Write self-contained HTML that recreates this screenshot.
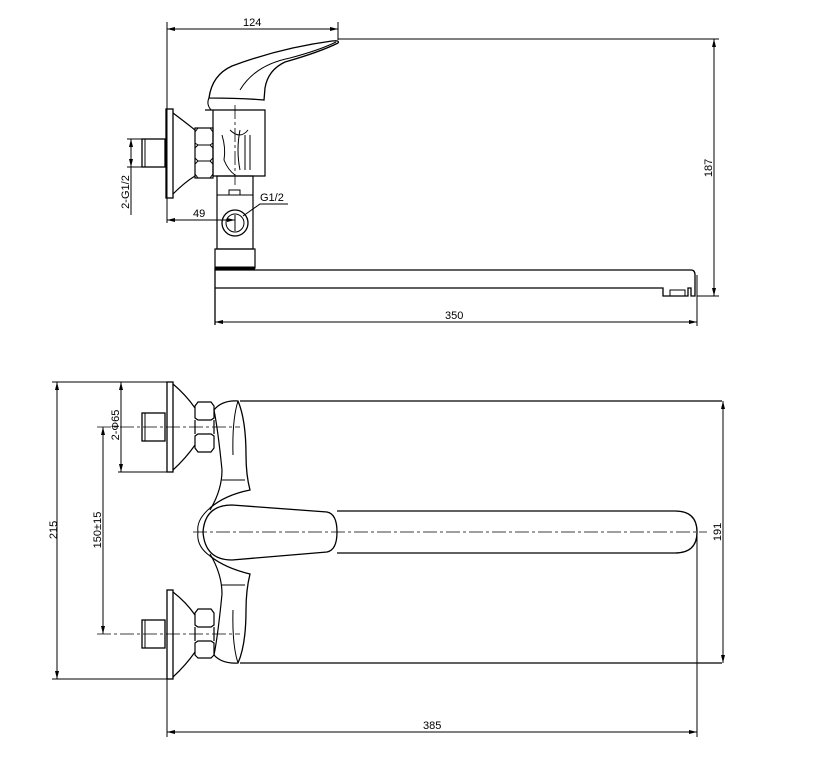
<!DOCTYPE html>
<html><head><meta charset="utf-8"><style>
html,body{margin:0;padding:0;background:#fff}
svg{display:block}
text{font-family:"Liberation Sans",sans-serif;font-size:11px;fill:#000}
</style></head><body>
<svg width="820" height="774" viewBox="0 0 820 774" xmlns="http://www.w3.org/2000/svg">
<defs>
<marker id="a" markerWidth="8" markerHeight="6" refX="8" refY="3" orient="auto-start-reverse" markerUnits="userSpaceOnUse"><path d="M0,1 L8,3 L0,5 Z" fill="#000"/></marker>
</defs>
<g stroke="#000" fill="none" stroke-width="1">
<line x1="167" y1="22" x2="167" y2="223"/>
<line x1="338" y1="22" x2="338" y2="40"/>
<line x1="167" y1="29" x2="338" y2="29" marker-start="url(#a)" marker-end="url(#a)"/>
<line x1="338" y1="39" x2="719" y2="39"/>
<line x1="697" y1="296" x2="719" y2="296"/>
<line x1="714" y1="39" x2="714" y2="296" marker-start="url(#a)" marker-end="url(#a)"/>
<rect x="166" y="109" width="7" height="89" stroke-width="1.3"/>
<path d="M173,113 Q185,122 195,130 M173,194 Q185,182 195,176" stroke-width="1.2"/>
<rect x="195" y="128" width="18" height="50" stroke-width="1.2"/>
<path d="M198,128 L195,132 L195,143 L198,145 L210,145 L213,143 L213,132 L210,128 M198,145 L195,148 L195,158 L198,161 L210,161 L213,158 L213,148 L210,145 M198,161 L195,164 L195,174 L198,178 M210,161 L213,164 L213,174 L210,178" stroke-width="1"/>
<rect x="142" y="139" width="23" height="28" stroke-width="1.3"/>
<line x1="145" y1="139" x2="145" y2="167"/>
<line x1="127" y1="139" x2="142" y2="139"/>
<line x1="127" y1="167" x2="142" y2="167"/>
<line x1="131" y1="139" x2="131" y2="167" marker-start="url(#a)" marker-end="url(#a)"/>
<line x1="131" y1="167" x2="131" y2="215"/>
<path d="M205,110 L265,110 L265,176 L213,176 M213,110 L213,176" stroke-width="1.2"/>
<path d="M222,135 Q226,148 224,160 Q228,170 235,175 M230,130 Q240,140 248,130 M245,135 L245,170 M250,135 L250,170 M240,130 Q236,150 240,170" stroke-width="1"/>
<line x1="235" y1="105" x2="235" y2="185" stroke-dasharray="14,3,3,3" stroke-width="0.8"/>
<path d="M209,98 Q212,75 232,66 Q280,48 332,41 Q340,40 338,43 Q320,52 285,62 Q268,70 265,88 L264,100 Q240,98 209,98 Z" stroke-width="1.3"/>
<path d="M240,90 Q255,65 290,58 Q320,50 336,42" stroke-width="1"/>
<path d="M209,98 Q206,104 211,110" stroke-width="1"/>
<rect x="217" y="176" width="36" height="73" stroke-width="1.2"/>
<line x1="217" y1="195" x2="253" y2="195"/>
<rect x="229" y="190" width="11" height="5"/>
<circle cx="235" cy="223" r="13" stroke-width="1.3"/>
<circle cx="235" cy="223" r="9" stroke-width="1"/>
<line x1="235" y1="215" x2="235" y2="231"/>
<polyline points="243,216 260,204 288,204"/>
<line x1="167" y1="220" x2="235" y2="220" marker-start="url(#a)" marker-end="url(#a)"/>
<rect x="215" y="249" width="40" height="19" stroke-width="1.2"/>
<line x1="215" y1="268" x2="255" y2="268" stroke-width="3"/>
<path d="M215,268 L215,325 M215,270 L691,270 Q695,270 695,275 L695,296 L691,296 L691,288 L688,288 L688,296 L663,296 L663,288 L215,288" stroke-width="1.3"/>
<rect x="670" y="290" width="15" height="6"/>
<line x1="697" y1="275" x2="697" y2="326"/>
<line x1="215" y1="322" x2="697" y2="322" marker-start="url(#a)" marker-end="url(#a)"/>

<line x1="52" y1="382" x2="173" y2="382"/>
<line x1="52" y1="679" x2="173" y2="679"/>
<line x1="57" y1="382" x2="57" y2="679" marker-start="url(#a)" marker-end="url(#a)"/>
<line x1="118" y1="472" x2="170" y2="472"/>
<line x1="121" y1="382" x2="121" y2="472" marker-start="url(#a)" marker-end="url(#a)"/>
<line x1="97" y1="427" x2="240" y2="427" stroke-dasharray="14,3,3,3" stroke-width="0.8"/>
<line x1="97" y1="634" x2="240" y2="634" stroke-dasharray="14,3,3,3" stroke-width="0.8"/>
<line x1="103" y1="427" x2="103" y2="634" marker-start="url(#a)" marker-end="url(#a)"/>
<rect x="167" y="382" width="6" height="90" stroke-width="1.3"/>
<rect x="167" y="590" width="6" height="89" stroke-width="1.3"/>
<path d="M173,384 Q186,395 195,408 M173,470 Q186,458 195,445 M173,592 Q186,602 195,615 M173,677 Q186,665 195,652" stroke-width="1.2"/>
<path d="M198,402 L211,402 L214,406 L214,418 L211,420 L198,420 L195,418 L195,406 Z M195,420 L195,434 M214,420 L214,434 M198,434 L211,434 L214,436 L214,448 L211,452 L198,452 L195,448 L195,436 Z" stroke-width="1.2"/>
<path d="M198,609 L211,609 L214,613 L214,625 L211,627 L198,627 L195,625 L195,613 Z M195,627 L195,641 M214,627 L214,641 M198,641 L211,641 L214,643 L214,655 L211,658 L198,658 L195,655 L195,643 Z" stroke-width="1.2"/>
<rect x="142" y="413" width="23" height="28" stroke-width="1.3"/>
<rect x="142" y="620" width="23" height="28" stroke-width="1.3"/>
<line x1="145" y1="413" x2="145" y2="441"/><line x1="145" y1="620" x2="145" y2="648"/>
<line x1="240" y1="401" x2="722" y2="401" stroke-width="1.2"/>
<line x1="240" y1="663" x2="722" y2="663" stroke-width="1.2"/>
<path d="M214,410 Q222,400 238,401 Q246,420 246,455 Q246,475 250,490 Q225,495 210,508 M214,655 Q222,664 238,663 Q246,645 246,610 Q246,590 250,574 Q225,568 210,556" stroke-width="1.3"/>
<path d="M214,410 Q218,430 222,470 Q222,490 210,510 M214,655 Q218,635 222,594 Q222,574 210,554" stroke-width="1.2"/>
<path d="M238,401 Q232,420 233,455 M238,663 Q232,645 233,610 M222,480 L245,480 M222,585 L245,585" stroke-width="1"/>
<path d="M232,505 Q205,505 203,532 Q205,560 232,560 L327,552 Q337,550 337,532 Q337,514 327,512 Z" stroke-width="1.3"/>
<path d="M210,508 Q196,520 198,532 Q196,546 210,556"/>
<path d="M337,511 L675,511 Q697,511 697,532 Q697,553 675,553 L337,553" stroke-width="1.3"/>
<line x1="193" y1="532" x2="707" y2="532" stroke-dasharray="14,3,3,3" stroke-width="0.8"/>
<line x1="723" y1="401" x2="723" y2="663" marker-start="url(#a)" marker-end="url(#a)"/>
<line x1="697" y1="532" x2="697" y2="737"/>
<line x1="167" y1="679" x2="167" y2="737"/>
<line x1="167" y1="732" x2="697" y2="732" marker-start="url(#a)" marker-end="url(#a)"/>
</g>
<g>
<text x="243" y="26">124</text>
<text x="193" y="217">49</text>
<text x="260" y="201">G1/2</text>
<text x="445" y="319">350</text>
<text x="423" y="729">385</text>
<text transform="translate(712,168) rotate(-90)" text-anchor="middle">187</text>
<text transform="translate(129,192) rotate(-90)" text-anchor="middle">2-G1/2</text>
<text transform="translate(57,530) rotate(-90)" text-anchor="middle">215</text>
<text transform="translate(119,425) rotate(-90)" text-anchor="middle">2-Φ65</text>
<text transform="translate(101,530) rotate(-90)" text-anchor="middle">150±15</text>
<text transform="translate(721,532) rotate(-90)" text-anchor="middle">191</text>
</g>
</svg>
</body></html>
